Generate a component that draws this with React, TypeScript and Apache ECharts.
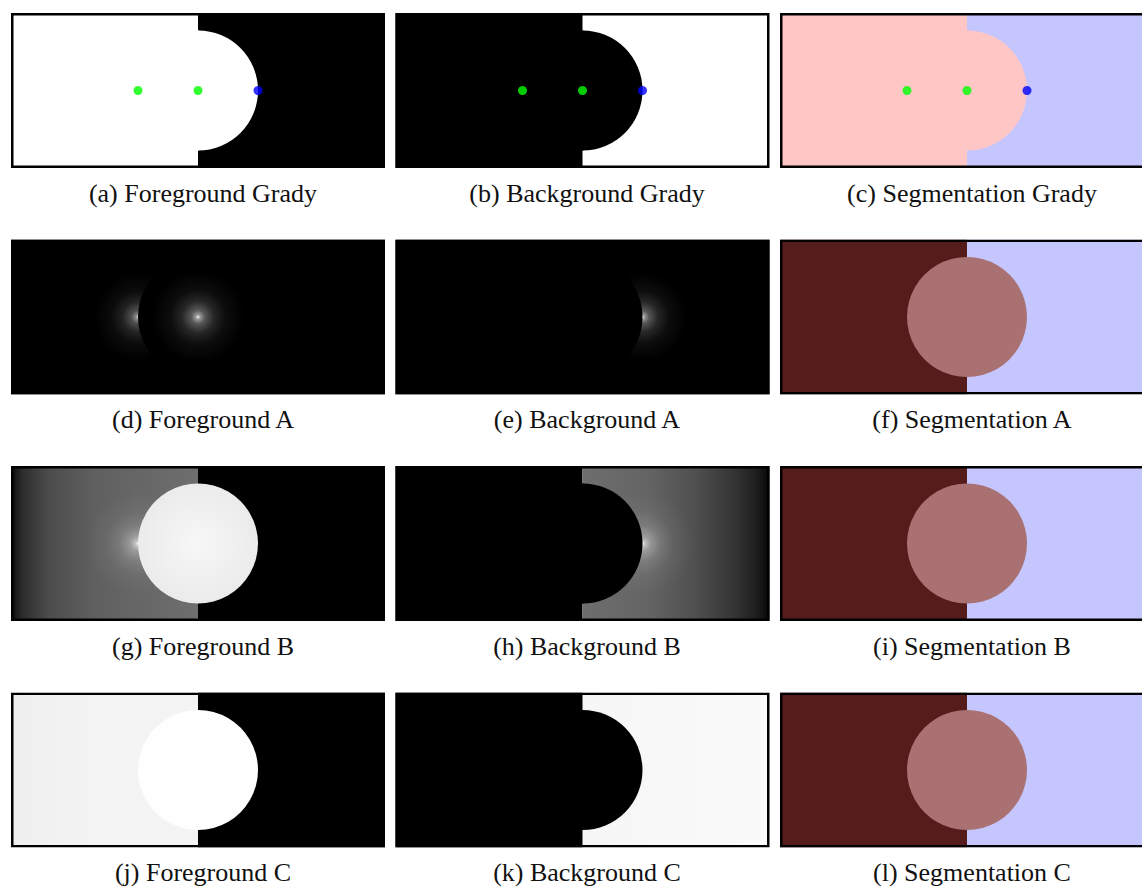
import React, { useEffect, useRef } from "react";
import * as echarts from "echarts";

// ---- data ----
const seedX = [-1, 0, 1];
const seedY = [0, 0, 0];
const seedRole = ["foreground", "foreground", "background"];
const circleCenter = [0, 0];
const circleRadius = [1];
const panelKinds = [
  "fgGrady", "bgGrady", "segGrady",
  "fgA", "bgA", "seg",
  "fgB", "bgB", "seg",
  "fgC", "bgC", "seg",
];
const captions = [
  "(a) Foreground Grady", "(b) Background Grady", "(c) Segmentation Grady",
  "(d) Foreground A", "(e) Background A", "(f) Segmentation A",
  "(g) Foreground B", "(h) Background B", "(i) Segmentation B",
  "(j) Foreground C", "(k) Background C", "(l) Segmentation C",
];

// ---- layout ----
const PANEL_W = 374;
const PANEL_H = 155;
const COL_LEFT = [11, 395.5, 780];
const ROW_TOP = [13, 239.5, 466, 692.5];
const CAP_X = [203, 587, 972];
const CAP_DY = 180;
const R_PX = 60;
const XR = PANEL_W / 2 / R_PX;
const YR = PANEL_H / 2 / R_PX;

const PINK = "#FFC6C6";
const LAV = "#C6C6FF";
const MAROON = "#561C1C";
const MAUVE = "#A97171";

function glowFill(strength: number) {
  const a = (v: number) => `rgba(255,255,255,${Math.min(1, v * strength)})`;
  return new echarts.graphic.RadialGradient(0.5, 0.5, 0.5, [
    { offset: 0, color: a(0.95) },
    { offset: 0.05, color: a(0.6) },
    { offset: 0.15, color: a(0.34) },
    { offset: 0.35, color: a(0.15) },
    { offset: 0.6, color: a(0.05) },
    { offset: 1, color: a(0) },
  ]);
}

function makeRender(kind: string) {
  return (params: any, api: any) => {
    const cs = params.coordSys;
    const c = api.coord([api.value(0), api.value(1)]);
    const r = api.size([api.value(2), 0])[0];
    const seedPx = seedX.map((x, i) => api.coord([x, seedY[i]]));
    const x0 = cs.x, y0 = cs.y, w = cs.width, h = cs.height;
    const left = (fill: any) => ({ type: "rect", shape: { x: x0, y: y0, width: c[0] - x0, height: h }, style: { fill } });
    const right = (fill: any) => ({ type: "rect", shape: { x: c[0], y: y0, width: x0 + w - c[0], height: h }, style: { fill } });
    const full = (fill: any) => ({ type: "rect", shape: { x: x0, y: y0, width: w, height: h }, style: { fill } });
    const halfR = (fill: any) => [
      {
        type: "sector",
        shape: { cx: c[0], cy: c[1], r0: 0, r, startAngle: -Math.PI / 2, endAngle: Math.PI / 2, clockwise: true },
        style: { fill },
      },
      { type: "rect", shape: { x: c[0] - 1, y: c[1] - r, width: 2, height: 2 * r }, style: { fill } },
    ];
    const disk = (fill: any) => ({ type: "circle", shape: { cx: c[0], cy: c[1], r }, style: { fill } });
    const glow = (i: number, gr: number, s: number) => ({
      type: "circle",
      shape: { cx: seedPx[i][0], cy: seedPx[i][1], r: gr },
      style: { fill: glowFill(s) },
    });
    let kids: any[] = [];
    switch (kind) {
      case "fgGrady":
        kids = [right("#000"), left("#fff"), ...halfR("#fff")];
        break;
      case "bgGrady":
        kids = [right("#fff"), left("#000"), ...halfR("#000")];
        break;
      case "segGrady":
        kids = [right(LAV), left(PINK), ...halfR(PINK)];
        break;
      case "fgA":
        kids = [full("#000"), glow(0, 44, 0.9), disk("#000"), glow(1, 46, 1)];
        break;
      case "bgA":
        kids = [full("#000"), glow(2, 44, 1), ...halfR("#000")];
        break;
      case "seg":
        kids = [left(MAROON), right(LAV), disk(MAUVE)];
        break;
      case "fgB":
        kids = [
          left(new echarts.graphic.LinearGradient(0, 0, 1, 0, [
            { offset: 0, color: "#0a0a0a" },
            { offset: 0.06, color: "#2c2c2c" },
            { offset: 0.2, color: "#4c4c4c" },
            { offset: 0.45, color: "#606060" },
            { offset: 0.75, color: "#686868" },
            { offset: 1, color: "#6e6e6e" },
          ])),
          right("#000"),
          glow(0, 52, 1),
          disk(new echarts.graphic.RadialGradient(0.5, 0.5, 0.5, [
            { offset: 0, color: "#f7f7f7" },
            { offset: 1, color: "#ebebeb" },
          ])),
        ];
        break;
      case "bgB":
        kids = [
          left("#000"),
          right(new echarts.graphic.LinearGradient(0, 0, 1, 0, [
            { offset: 0, color: "#6e6e6e" },
            { offset: 0.35, color: "#646464" },
            { offset: 0.6, color: "#505050" },
            { offset: 0.8, color: "#363636" },
            { offset: 0.93, color: "#1e1e1e" },
            { offset: 1, color: "#060606" },
          ])),
          glow(2, 52, 1),
          ...halfR("#000"),
        ];
        break;
      case "fgC":
        kids = [
          left(new echarts.graphic.LinearGradient(0, 0, 1, 0, [
            { offset: 0, color: "#efefef" },
            { offset: 0.5, color: "#f4f4f4" },
            { offset: 1, color: "#f3f3f3" },
          ])),
          right("#000"),
          disk("#fefefe"),
        ];
        break;
      case "bgC":
        kids = [
          right(new echarts.graphic.LinearGradient(0, 0, 1, 0, [
            { offset: 0, color: "#f6f6f6" },
            { offset: 1, color: "#fafafa" },
          ])),
          left("#000"),
          ...halfR("#000"),
        ];
        break;
    }
    kids.push({
      type: "rect",
      shape: { x: x0 + 1.25, y: y0 + 1.25, width: w - 2.5, height: h - 2.5 },
      style: { fill: "none", stroke: "#000", lineWidth: 2.5 },
    });
    return { type: "group", children: kids };
  };
}

export default function App() {
  const ref = useRef<HTMLDivElement>(null);
  useEffect(() => {
    if (!ref.current) return;
    const chart = echarts.init(ref.current, undefined, { renderer: "svg" });
    const grids: any[] = [];
    const xAxes: any[] = [];
    const yAxes: any[] = [];
    const series: any[] = [];
    const graphics: any[] = [];
    panelKinds.forEach((kind, i) => {
      const row = Math.floor(i / 3);
      const col = i % 3;
      grids.push({
        left: COL_LEFT[col],
        top: ROW_TOP[row],
        width: PANEL_W,
        height: PANEL_H,
        containLabel: false,
        outerBoundsMode: "none",
      });
      xAxes.push({ type: "value", gridIndex: i, min: -XR, max: XR, show: false });
      yAxes.push({ type: "value", gridIndex: i, min: -YR, max: YR, show: false });
      series.push({
        type: "custom",
        xAxisIndex: i,
        yAxisIndex: i,
        silent: true,
        clip: true,
        renderItem: makeRender(kind),
        data: [[circleCenter[0], circleCenter[1], circleRadius[0]]],
        z: 1,
      });
      if (row === 0) {
        series.push({
          type: "scatter",
          xAxisIndex: i,
          yAxisIndex: i,
          silent: true,
          symbol: "circle",
          symbolSize: 9,
          z: 5,
          data: seedX.map((x, k) => ({
            value: [x, seedY[k]],
            itemStyle: { color: seedRole[k] === "foreground" ? "#00ff00" : "#0000ff" },
          })),
        });
      }
      graphics.push({
        type: "text",
        x: CAP_X[col],
        y: ROW_TOP[row] + CAP_DY,
        style: {
          text: captions[i],
          fill: "#111",
          font: '26px "Liberation Serif", "DejaVu Serif", serif',
          textAlign: "center",
          textVerticalAlign: "middle",
          verticalAlign: "middle",
        },
      });
    });
    chart.setOption({
      animation: false,
      backgroundColor: "#fff",
      grid: grids,
      xAxis: xAxes,
      yAxis: yAxes,
      series,
      graphic: graphics,
    });
    return () => chart.dispose();
  }, []);
  return (
    <div
      ref={ref}
      style={{ position: "absolute", left: 0, top: 0, width: 1142, height: 888 }}
    />
  );
}
